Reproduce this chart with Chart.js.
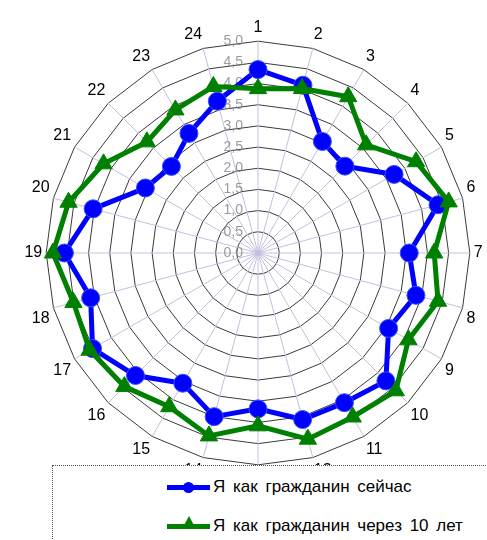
<!DOCTYPE html>
<html>
<head>
<meta charset="utf-8">
<script src="https://cdn.jsdelivr.net/npm/chart.js@4.4.1/dist/chart.umd.min.js"></script>
<style>
    html, body { margin: 0; padding: 0; background: #fff; overflow: hidden; width: 487px; height: 540px; }
    #wrap { position: absolute; left: 0; top: 0; width: 516px; height: 504px; }
    #legendBox {
        position: absolute; left: 52px; top: 465px; width: 470px; height: 100px;
        background: #fff; border: 1px dotted #555; box-sizing: border-box;
        font-family: "Liberation Sans", Arial, sans-serif; font-size: 17px; word-spacing: 3px; color: #000;
    }
    .item { position: absolute; left: 114px; height: 20px; line-height: 20px; white-space: nowrap; }
    .sample { position: absolute; left: 0; top: 8px; width: 43px; height: 5px; }
    .label { position: absolute; left: 46px; top: 0; }
    .dot { position: absolute; left: 16px; top: -3px; width: 11px; height: 11px; border-radius: 50%; background: #0000ff; }
    .tri { position: absolute; left: 15px; top: -8px; width: 0; height: 0;
        border-left: 7px solid transparent; border-right: 7px solid transparent; border-bottom: 13px solid #008000; }
</style>
</head>
<body>
<div id="wrap"><canvas id="radarChart"></canvas></div>
<div id="legendBox">
    <div class="item" style="top: 11px;">
        <div class="sample" style="background:#0000ff;"><div class="dot"></div></div>
        <span class="label">Я как гражданин сейчас</span>
    </div>
    <div class="item" style="top: 50px;">
        <div class="sample" style="background:#008000;"><div class="tri"></div></div>
        <span class="label">Я как гражданин через 10 лет</span>
    </div>
</div>
<script>
// categories 1..24
const categories = ['1', '2', '3', '4', '5', '6', '7', '8', '9', '10', '11', '12',
    '13', '14', '15', '16', '17', '18', '19', '20', '21', '22', '23', '24'];

// values
const nowValues = [4.33, 4.1, 3.04, 2.9, 3.71, 4.4, 3.57, 3.86, 3.56, 4.27, 4.08, 4.07,
    3.68, 4.0, 3.55, 4.09, 4.51, 4.09, 4.57, 4.03, 3.07, 2.89, 3.26, 3.71];
const futureValues = [3.88, 4.02, 4.26, 3.61, 4.31, 4.66, 4.16, 4.4, 4.1, 4.6, 4.47, 4.55,
    4.08, 4.47, 4.19, 4.46, 4.59, 4.51, 4.84, 4.63, 4.21, 3.71, 3.9, 4.07];

const seriesNames = ['Я как гражданин сейчас', 'Я как гражданин через 10 лет'];

const tickMin = 0;
const tickMax = 5;
const tickStep = 0.5;

// draw the radial tick labels left of the vertical axis, under the lines
const tickLabelPlugin = {
    id: 'tickLabels',
    beforeDatasetsDraw(chart) {
        const scale = chart.scales.r;
        const ctx = chart.ctx;
        ctx.save();
        ctx.font = '14px "Liberation Sans", Arial, sans-serif';
        ctx.fillStyle = 'rgba(130,130,130,0.8)';
        ctx.textAlign = 'right';
        ctx.textBaseline = 'middle';
        scale.ticks.forEach(tick => {
            const d = scale.getDistanceFromCenterForValue(tick.value);
            const text = tick.value.toFixed(1).replace('.', ',');
            ctx.fillText(text, scale.xCenter - 15, scale.yCenter - d);
        });
        ctx.restore();
    }
};

const ctx = document.getElementById('radarChart').getContext('2d');

const myChart = new Chart(ctx, {
    type: 'radar',
    data: {
        labels: categories,
        datasets: [
            {
                label: seriesNames[0],
                data: nowValues,
                borderColor: '#0000ff',
                backgroundColor: '#0000ff',
                borderWidth: 5,
                pointStyle: 'circle',
                pointRadius: 9,
                pointBackgroundColor: '#0000ff',
                pointBorderColor: '#3050ff',
                pointBorderWidth: 1,
                fill: false,
                order: 1,
            },
            {
                label: seriesNames[1],
                data: futureValues,
                borderColor: '#008000',
                backgroundColor: '#008000',
                borderWidth: 5,
                pointStyle: 'triangle',
                pointRadius: 10,
                pointBackgroundColor: '#008000',
                pointBorderColor: '#008000',
                pointBorderWidth: 1,
                fill: false,
                order: 0,
            },
        ],
    },
    options: {
        responsive: true,
        maintainAspectRatio: false,
        animation: false,
        layout: { padding: { top: 18, bottom: 16, left: 0, right: 0 } },
        plugins: {
            legend: { display: false },
            tooltip: { enabled: false },
        },
        elements: { line: { tension: 0 } },
        scales: {
            r: {
                min: tickMin,
                max: tickMax,
                ticks: { stepSize: tickStep, display: false },
                grid: { color: '#3a3a3a', lineWidth: 1, circular: false },
                angleLines: { color: '#c4bedd', lineWidth: 1 },
                pointLabels: {
                    color: '#000',
                    padding: 4,
                    font: { family: '"Liberation Sans", Arial, sans-serif', size: 16 },
                },
            },
        },
    },
    plugins: [tickLabelPlugin],
});
</script>
</body>
</html>
